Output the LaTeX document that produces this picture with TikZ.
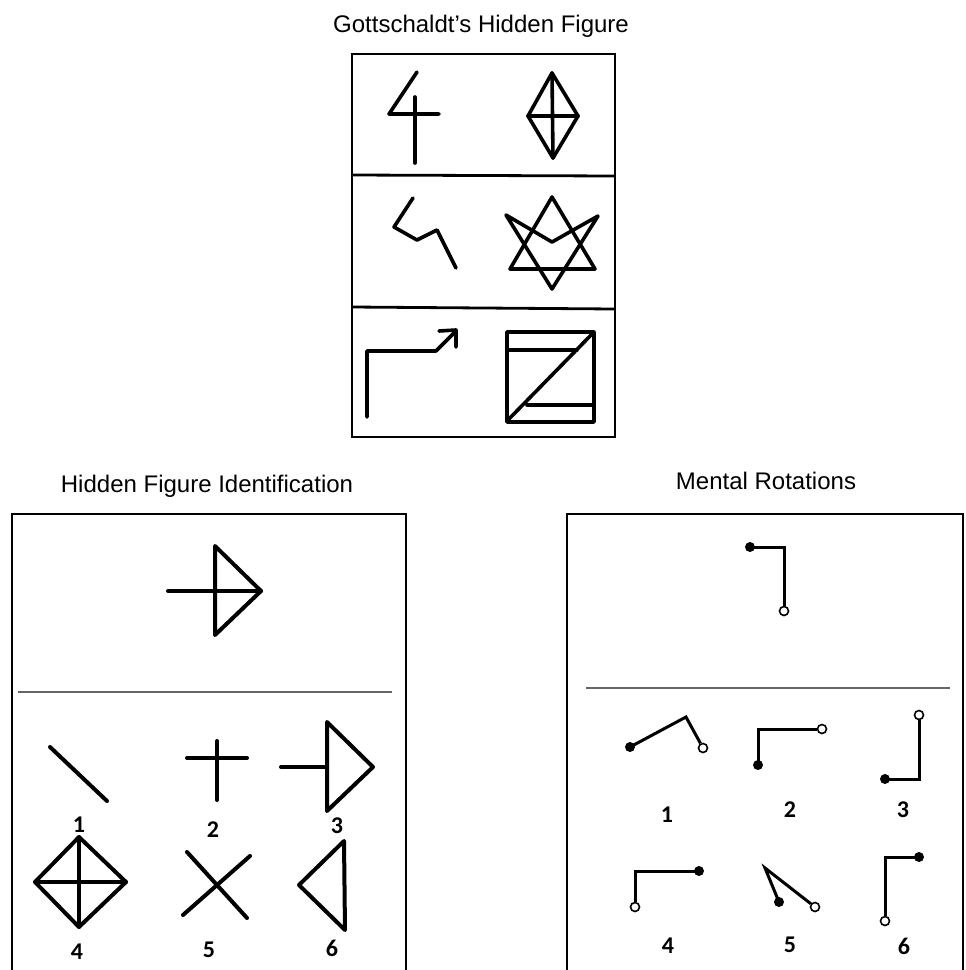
\documentclass[tikz,border=0pt]{standalone}
\usepackage{fontspec}
\setmainfont{Liberation Sans}
\newfontfamily\digitfont{Carlito}
\definecolor{rulegray}{HTML}{666666}

\begin{document}
\begin{tikzpicture}[x=1pt,y=-1pt,
  frame/.style={line width=2.2pt,draw=black},
  band/.style={line width=2.8pt},
  graysep/.style={line width=2pt,draw=rulegray},
  gfig/.style={line width=3.6pt,line cap=round,line join=round},
  hfig/.style={line width=4pt,line cap=round,line join=round},
  rfig/.style={line width=3pt,line join=miter},
  heading/.style={font=\fontsize{24}{28}\selectfont,anchor=base,inner sep=0pt},
  num/.style={font=\digitfont\bfseries\fontsize{24}{28}\selectfont,anchor=base,inner sep=0pt},
  fulldot/.style={circle,fill=black,minimum size=10pt,inner sep=0pt},
  opendot/.style={circle,draw=black,fill=white,line width=1.6pt,minimum size=9pt,inner sep=0pt}]

% canvas
\fill[white] (0,0) rectangle (966,970);
\useasboundingbox (0,0) rectangle (966,970);

% headings
\node[heading] (tGott) at (481,32) {Gottschaldt’s Hidden Figure};
\node[heading] (tHid)  at (207,492) {Hidden Figure Identification};
\node[heading] (tRot)  at (766,489) {Mental Rotations};

% ---------------- Gottschaldt panel ----------------
\draw[frame] (352,54) rectangle (615,437);
\draw[band] (352,175) -- (615,176);
\draw[band] (352,307) -- (615,309);

% row 1: "4" figure and kite
\draw[gfig] (417,72) -- (389,114) -- (439,114);
\draw[gfig] (415,97) -- (415,163);
\draw[gfig] (552,73) -- (578,116) -- (553,158) -- (528,116) -- cycle;
\draw[gfig] (552,73) -- (553,158);
\draw[gfig] (528,116) -- (578,116);

% row 2: zigzag and star
\draw[gfig] (413,198) -- (394,227) -- (417,240) -- (437,230) -- (456,268);
\draw[gfig] (552,197) -- (595,269) -- (510,269) -- cycle;
\draw[gfig] (506,215) -- (552,242) -- (598,216) -- (552,289) -- cycle;

% row 3: bent arrow and crossed square
\draw[gfig] (367,417) -- (367,351) -- (436,351) -- (455,332);
\draw[gfig] (439,331) -- (456,330) -- (456,347);
\draw[gfig] (507,332) rectangle (594,422);
\draw[gfig] (507,350) -- (577,350);
\draw[gfig] (594,332) -- (507,421);
\draw[gfig] (527,405) -- (594,405);

% ---------------- Hidden figure identification ----------------
\draw[frame] (12,970) -- (12,514) -- (406,514) -- (406,970);
\draw[hfig] (168,591) -- (261,591);
\draw[hfig] (215,546) -- (261,591) -- (215,635) -- cycle;
\draw[graysep] (18,692) -- (392,692);

% options 1-3
\draw[hfig] (50,747) -- (107,801);
\draw[hfig] (187,758) -- (247,758);
\draw[hfig] (217,741) -- (217,800);
\draw[hfig] (281,767) -- (327,767);
\draw[hfig] (327,722) -- (373,767) -- (327,811) -- cycle;
% options 4-6
\draw[hfig] (79,837) -- (126,882) -- (79,927) -- (35,882) -- cycle;
\draw[hfig] (79,837) -- (79,927);
\draw[hfig] (35,882) -- (126,882);
\draw[hfig] (187,852) -- (247,918);
\draw[hfig] (250,856) -- (183,915);
\draw[hfig] (344,841) -- (345,930) -- (299,885) -- cycle;

\node[num] (h1) at (79,832)  {1};
\node[num] (h2) at (213,837) {2};
\node[num] (h3) at (337,833) {3};
\node[num] (h4) at (77,959)  {4};
\node[num] (h5) at (209,957) {5};
\node[num] (h6) at (332,956) {6};

% ---------------- Mental rotations ----------------
\draw[frame] (567,970) -- (567,514) -- (963,514) -- (963,970);
\draw[graysep] (586,688) -- (950,688);

% target
\node[fulldot] (s0) at (750,547) {};
\coordinate (c0) at (784,547);
\node[opendot] (e0) at (784,611) {};
\draw[rfig] (s0.center) -- (c0) -- (e0);

% 1
\node[fulldot] (s1) at (630,747) {};
\coordinate (c1) at (686,717);
\node[opendot] (e1) at (703,748) {};
\draw[rfig] (s1.center) -- (c1) -- (e1);
% 2
\node[fulldot] (s2) at (758,765) {};
\coordinate (c2) at (758,729);
\node[opendot] (e2) at (822,729) {};
\draw[rfig] (s2.center) -- (c2) -- (e2);
% 3
\node[fulldot] (s3) at (885,779) {};
\coordinate (c3) at (919,779);
\node[opendot] (e3) at (919,715) {};
\draw[rfig] (s3.center) -- (c3) -- (e3);
% 4
\node[fulldot] (s4) at (699,871) {};
\coordinate (c4) at (635,871);
\node[opendot] (e4) at (635,907) {};
\draw[rfig] (s4.center) -- (c4) -- (e4);
% 5
\node[fulldot] (s5) at (779,902) {};
\coordinate (c5) at (765,868);
\node[opendot] (e5) at (815,907) {};
\draw[rfig] (s5.center) -- (c5) -- (e5);
% 6
\node[fulldot] (s6) at (919,857) {};
\coordinate (c6) at (885,857);
\node[opendot] (e6) at (885,921) {};
\draw[rfig] (s6.center) -- (c6) -- (e6);

\node[num] (r1) at (667,822) {1};
\node[num] (r2) at (790,817) {2};
\node[num] (r3) at (903,817) {3};
\node[num] (r4) at (668,953) {4};
\node[num] (r5) at (790,952) {5};
\node[num] (r6) at (904,954) {6};
\end{tikzpicture}
\end{document}
